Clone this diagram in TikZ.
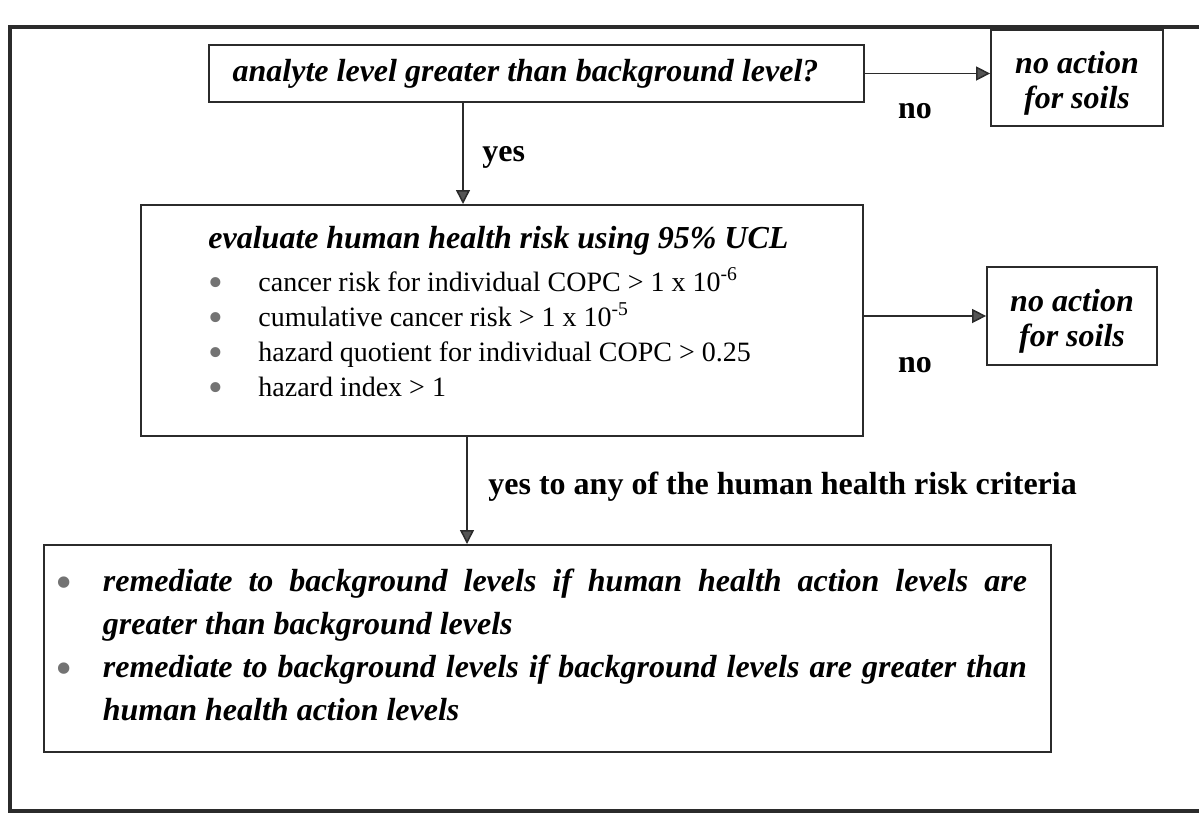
\documentclass[tikz,border=0pt]{standalone}
\usepackage{fontspec}
\setmainfont{Liberation Serif}
\usepackage{tikz}
\usepackage{xcolor}
\usetikzlibrary{calc}
\usetikzlibrary{arrows.meta}
\definecolor{linecolore}{HTML}{2B2B2B}
\definecolor{bulletcolore}{HTML}{737373}
\colorlet{linecolor}{linecolore}
\colorlet{bulletcolor}{bulletcolore}
\colorlet{headcolor}{linecolore!80!white}
\tikzstyle{framebox} = [
    draw=linecolor,
    line width=1.6pt
    ]
\tikzstyle{stepbox} = [
    draw=linecolor,
    line width=0.9pt,
    rectangle,
    inner sep=0pt,
    align=center,
    font=\fontsize{16}{17.5}\selectfont\bfseries\itshape
    ]
\tikzstyle{flow} = [
    draw=linecolor,
    line width=0.75pt,
    -{Triangle[length=7pt,width=7pt,fill=headcolor]}
    ]
\tikzstyle{answer} = [
    font=\fontsize{16}{19}\selectfont\bfseries,
    inner sep=0pt
    ]
\newcommand{\dotmark}{\raisebox{-2.6pt}[0pt][0pt]{\textcolor{bulletcolor}{\fontsize{21}{21}\selectfont\textbullet}}}

\begin{document}
\begin{tikzpicture}[x=0.5pt,y=-0.5pt]
\useasboundingbox (0,0) rectangle (1199,814);
\draw [framebox] (1199,27) -- (10,27) -- (10,811) -- (1199,811);

\node [stepbox, minimum width=327.5pt, minimum height=28.5pt] (level) at (536.5,73.5)
    {analyte level greater than background level?\hspace{11pt}};
\node [stepbox, minimum width=86pt, minimum height=48pt] (noaction1) at (1077,78)
    {\rule{0pt}{16pt}no action\\for soils};

\node [stepbox, anchor=north west, minimum width=361pt, minimum height=115.5pt,
    font=\fontsize{14}{17.5}\selectfont] (risk) at (140,204){%
    \begin{minipage}[c][94.5pt][t]{290pt}
    {\fontsize{16}{17.5}\selectfont\bfseries\itshape evaluate human health risk using 95\% UCL}\par
    \vspace{4pt}
    \begin{tabular}[t]{@{}p{25pt}@{}l@{}}
    \dotmark & cancer risk for individual COPC > 1 x 10\textsuperscript{-6}\\
    \dotmark & cumulative cancer risk > 1 x 10\textsuperscript{-5}\\
    \dotmark & hazard quotient for individual COPC > 0.25\\
    \dotmark & hazard index > 1
    \end{tabular}
    \end{minipage}
};
\node [stepbox, minimum width=85pt, minimum height=49pt] (noaction2) at (1072,316)
    {\rule{0pt}{16pt}no action\\for soils};

\node [stepbox, anchor=north west, minimum width=503.5pt, minimum height=103.5pt,
    font=\fontsize{16}{21.5}\selectfont\bfseries\itshape] (remedy) at (43,544){%
    \begin{minipage}[c][87.5pt][t]{486.5pt}
    \begin{tabular}[t]{@{}p{23pt}@{}p{462pt}@{}}
    \dotmark & remediate to background levels if human health action levels are\linebreak
        greater than background levels\\
    \dotmark & remediate to background levels if background levels are greater than\linebreak
        human health action levels
    \end{tabular}
    \end{minipage}
};

\node [answer, anchor=west] (yes1) at (482,157) {yes};
\node [answer] (no1) at (915,111) {no};
\node [answer] (no2) at (915,365) {no};
\node [answer, anchor=west] (yes2) at (488,487) {yes to any of the human health risk criteria};

\coordinate (down1) at (463,0);
\coordinate (down2) at (467,0);
\draw [flow] (level.east) -- (level.east -| noaction1.west);
\draw [flow] (down1 |- level.south) -- (down1 |- risk.north);
\draw [flow] (noaction2.west -| risk.east) -- (noaction2.west);
\draw [flow] (down2 |- risk.south) -- (down2 |- remedy.north);
\end{tikzpicture}
\end{document}
